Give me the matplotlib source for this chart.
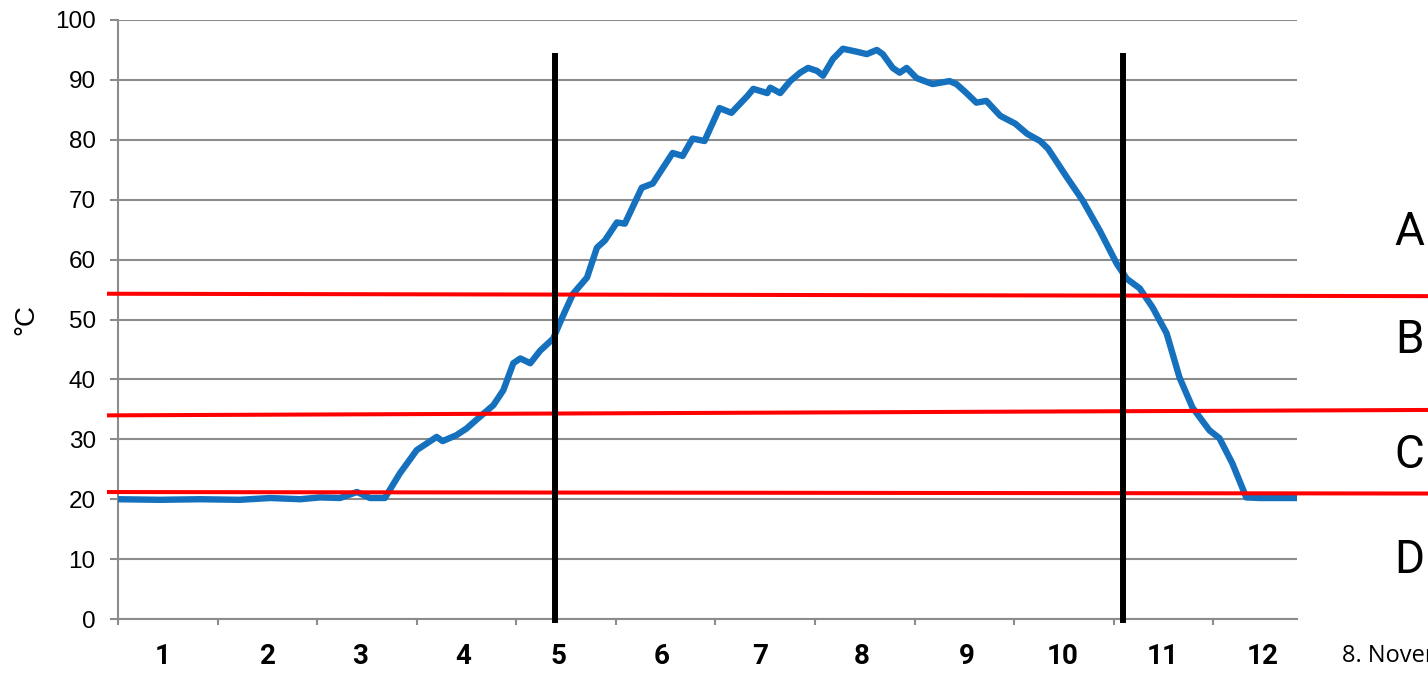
import matplotlib
matplotlib.use("Agg")
import matplotlib.pyplot as plt

# ---------------------------------------------------------------------------
# Data
# ---------------------------------------------------------------------------
# time axis in "tick units" (one tick interval = 1)
time_h = [0.00, 0.42, 0.82, 1.22, 1.53, 1.83, 2.03, 2.23, 2.40, 2.53, 2.68,
          2.83, 3.00, 3.10, 3.20, 3.26, 3.40, 3.50, 3.63, 3.77, 3.87, 3.97,
          4.04, 4.14, 4.24, 4.37, 4.46, 4.57, 4.71, 4.81, 4.89, 5.01, 5.09,
          5.26, 5.37, 5.57, 5.67, 5.77, 5.89, 6.04, 6.16, 6.32, 6.38, 6.52,
          6.55, 6.65, 6.75, 6.85, 6.93, 7.02, 7.08, 7.18, 7.28, 7.42, 7.52,
          7.62, 7.68, 7.78, 7.85, 7.92, 8.02, 8.18, 8.35, 8.42, 8.52, 8.62,
          8.72, 8.86, 9.01, 9.13, 9.26, 9.34, 9.53, 9.69, 9.86, 10.03, 10.13,
          10.26, 10.39, 10.53, 10.66, 10.79, 10.96, 11.06, 11.19, 11.33,
          11.47, 11.84]
temp_c = [20.0, 19.9, 20.0, 19.9, 20.2, 20.0, 20.3, 20.2, 21.2, 20.2, 20.2,
          24.3, 28.2, 29.3, 30.4, 29.7, 30.7, 31.8, 33.7, 35.7, 38.2, 42.7,
          43.5, 42.7, 44.8, 46.8, 50.3, 54.3, 57.0, 62.0, 63.2, 66.2, 66.0,
          72.0, 72.7, 77.8, 77.3, 80.2, 79.8, 85.3, 84.5, 87.3, 88.5, 87.8,
          88.7, 87.8, 89.8, 91.2, 92.0, 91.5, 90.7, 93.5, 95.2, 94.7, 94.3,
          95.0, 94.3, 92.0, 91.2, 92.0, 90.3, 89.3, 89.8, 89.3, 87.8, 86.2,
          86.5, 84.0, 82.7, 81.0, 79.8, 78.5, 73.7, 69.8, 64.8, 59.3, 56.8,
          55.2, 52.0, 47.7, 40.3, 35.3, 31.5, 30.2, 26.0, 20.3,
          20.2, 20.2]

x_labels = ["1", "2", "3", "4", "5", "6", "7", "8", "9", "10", "11", "12"]
x_label_pos = [0.45, 1.51, 2.43, 3.47, 4.42, 5.46, 6.45, 7.47, 8.52, 9.49,
               10.49, 11.49]

# zone boundaries (red lines), value at left and right end
zone_left = [54.3, 34.0, 21.2]
zone_right = [53.9, 34.9, 20.95]
zone_names = ["A", "B", "C", "D"]
zone_name_y = [64.6, 46.6, 27.4, 9.85]

# black phase markers
phase_x = [4.39, 10.09]
phase_top = 94.5

# ---------------------------------------------------------------------------
# Plot
# ---------------------------------------------------------------------------
GRID = "#8c8c8c"
BLUE = "#1570be"

fig = plt.figure(figsize=(14.28, 6.73), dpi=100)
ax = fig.add_axes([0.0826, 0.0802, 0.8257, 0.8901])

ax.set_xlim(0, 11.84)
ax.set_ylim(0, 100)

ax.set_yticks(range(0, 101, 10))
ax.grid(True, axis="y", color=GRID, linewidth=1.5)
ax.set_axisbelow(True)
for s in ["top", "right"]:
    ax.spines[s].set_visible(False)
for s in ["left", "bottom"]:
    ax.spines[s].set_color(GRID)
    ax.spines[s].set_linewidth(1.5)

ax.tick_params(axis="y", length=6, width=1.5, color=GRID, pad=10,
               labelsize=17.5, labelfontfamily="Liberation Sans")
ax.set_xticks(range(0, 12))
ax.tick_params(axis="x", which="major", length=4.5, width=1.5, color=GRID,
               labelbottom=False)
ax.set_xticks(x_label_pos, x_labels, minor=True)
ax.tick_params(axis="x", which="minor", length=0, pad=17, labelsize=20)
for lab in ax.get_xticklabels(minor=True):
    lab.set_fontfamily("Roboto")
    lab.set_fontweight("semibold")

ax.set_ylabel("°C", fontsize=20, family="Liberation Sans", labelpad=11)

ax.plot(time_h, temp_c, color=BLUE, linewidth=4.6, solid_capstyle="round",
        solid_joinstyle="round", zorder=3)

# red zone lines run across the whole figure width
x_from, x_to = -0.09, 13.16
for yl, yr in zip(zone_left, zone_right):
    ax.plot([x_from, x_to], [yl, yr], color="#ff0000", linewidth=2.9,
            clip_on=False, zorder=4)

for xp in phase_x:
    ax.plot([xp, xp], [-0.6, phase_top], color="black", linewidth=4.3,
            clip_on=False, zorder=5, solid_capstyle="butt")

for name, yv in zip(zone_names, zone_name_y):
    ax.text(12.97, yv, name, fontsize=33, family="Roboto", ha="center",
            va="center", clip_on=False)

# footer date, cut off at the right edge as in the source image
fig.text(1342 / 1428, 1 - 662 / 673, "8. November", fontsize=17,
         family="Open Sans", ha="left", va="baseline")

fig.savefig("out.png", dpi=100)
